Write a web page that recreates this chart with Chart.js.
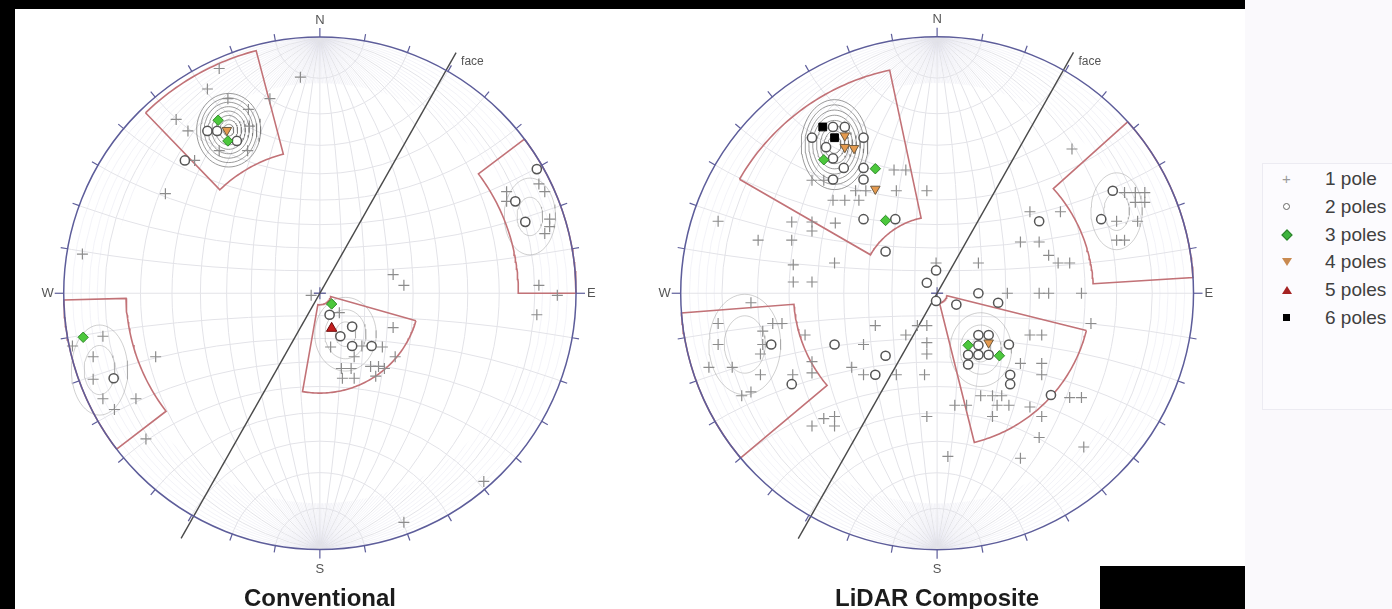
<!DOCTYPE html>
<html lang="en">
<head>
<meta charset="UTF-8" />
<title>Pole plots - Conventional vs LiDAR Composite</title>
<script src="https://cdn.jsdelivr.net/npm/chart.js"></script>
<style>
  body { margin: 0; width: 1392px; height: 609px; background: #000; position: relative; overflow: hidden;
         font-family: Arial, "Liberation Sans", sans-serif; }
  .sheet { position: absolute; left: 15px; top: 9px; width: 1377px; height: 600px; background: #fff; }
  .blackout { position: absolute; left: 1100px; top: 566px; width: 145px; height: 43px; background: #000; }
  .panel { position: absolute; left: 1245px; top: 0; width: 147px; height: 609px; background: #faf9fc; }
  .net { position: absolute; top: 0; height: 609px; }
  #convBox { left: 0; width: 628px; }
  #lidarBox { left: 628px; width: 628px; }
  .title { position: absolute; top: 586px; width: 320px; margin-left: -160px; text-align: center;
           font-weight: bold; font-size: 24px; line-height: 24px; color: #1c1c1c; }
  .legend { position: absolute; left: 1262px; top: 163px; width: 140px; height: 245px;
            background: #fcfbfe; border: 1px solid #ecebf2; }
  .item { position: absolute; left: 0; height: 28px; line-height: 28px; font-size: 19px; color: #404040; white-space: nowrap; }
  .item span.txt { position: absolute; left: 62px; }
  .mk { position: absolute; left: 24px; top: 14px; }
  .m1 { color: #9a9a9a; font-size: 15px; line-height: 15px; margin-top: -8px; margin-left: -5px; }
  .m2 { width: 5px; height: 5px; border: 1.5px solid #666; border-radius: 50%; background: #fff; margin: -4px 0 0 -4px; }
  .m3 { width: 6px; height: 6px; background: #3cb43c; border: 1px solid #2b7d2b; transform: rotate(45deg); margin: -4px 0 0 -4px; }
  .m4 { width: 0; height: 0; border-left: 5px solid transparent; border-right: 5px solid transparent; border-top: 8px solid #c98a50; margin: -4px 0 0 -5px; }
  .m5 { width: 0; height: 0; border-left: 5px solid transparent; border-right: 5px solid transparent; border-bottom: 8px solid #a52222; margin: -4px 0 0 -5px; }
  .m6 { width: 7px; height: 7px; background: #000; margin: -4px 0 0 -4px; }
</style>
</head>
<body>
  <div class="sheet"></div>
  <div class="blackout"></div>
  <div class="panel"></div>
  <div class="net" id="convBox"><canvas id="convChart"></canvas></div>
  <div class="net" id="lidarBox"><canvas id="lidarChart"></canvas></div>
  <div class="title" style="left:320px;">Conventional</div>
  <div class="title" style="left:937px;">LiDAR Composite</div>
  <div class="legend" id="legend"></div>

<script>
// Net units: the primitive circle has radius 100, x to the east, y to the north.

// ---- Conventional ----
const convOnePole = [
  [-39.3,87.8],[-7.6,84.4],[-43.9,79.8],[-35.9,76.0],[-19.5,76.0],[-56.1,67.9],[-51.5,63.4],[-27.9,71.8],
  [-27.5,65.3],[-39.3,55.7],[-28.2,55.7],[-60.3,38.9],[-48.9,51.9],
  [-3.4,-0.8],[28.6,7.3],[32.8,3.1],[7.6,-7.6],[4.2,-21.0],[16.4,-20.6],[24.4,-21.0],[28.6,-13.4],[13.4,-24.8],
  [29.4,-24.8],[8.4,-29.4],[12.2,-29.4],[19.8,-28.6],[22.9,-28.6],[25.2,-29.4],[8.8,-33.2],[13.4,-33.2],[21.8,-32.4],
  [-92.7,15.3],[-84.7,-16.8],[-96.6,-20.6],[-88.5,-24.8],[-88.5,-33.6],[-84.7,-41.2],[-80.2,-45.4],[-71.8,-41.2],
  [-64.1,-24.8],[-67.9,-56.9],
  [85.5,42.7],[87.8,39.7],[72.9,39.7],[72.9,35.9],[89.7,29.0],[89.7,26.0],[87.8,23.3],[85.5,3.1],[92.7,-0.8],[84.7,-8.4],
  [64.0,-73.5],[32.8,-89.5]
];
const convTwoPoles = [
  [-52.7,51.9],[-43.9,63.4],[-40.1,63.4],[-32.4,59.5],[3.8,-8.4],[12.6,-13.0],[8.0,-16.8],[12.6,-20.6],
  [20.2,-20.6],[-80.5,-33.2],[84.7,48.5],[76.3,35.9],[80.2,27.9]
];
const convThreePoles = [[-39.7,67.6],[-35.9,59.5],[4.6,-4.2],[-92.4,-17.2]];
const convFourPoles = [[-36.3,63.7]];
const convFivePoles = [[4.6,-13.7]];
const convSixPoles = [];
// windows: [dip direction from, dip direction to, inner radius, outer radius]
const convWindows = [[316,345.3,56.2,98],[53,90,77.5,100],[232.5,268.5,75.7,100],[106,190,4.5,39]];
// density contours: centre, radii, vertical stretch
const convContourCentres = [[-35.6,63.7],[10,-16],[-86,-30],[82,30]];
const convContourRadii = [[2,3.5,5,6.5,8,9.5,11,12.5],[4,8,12],[6,11],[5,10]];
const convContourStretch = [1.15,1.2,1.6,1.5];

// ---- LiDAR Composite ----
const lidarOnePole = [
  [-48.8,44.1],[-44.2,44.1],[-31.8,40.0],[-27.8,40.0],[-40.6,36.3],[-36.0,36.3],[-30.5,36.3],[-16.8,48.1],
  [-12.2,48.1],[-15.9,40.0],[-4.0,40.0],
  [-85.4,28.1],[-69.8,20.7],[-56.7,27.8],[-56.7,20.7],[-48.8,27.8],[-48.8,24.3],[-39.7,27.4],[-56.1,11.1],
  [-56.1,4.4],[-48.8,4.4],[-40.0,11.8],[-72.6,-3.7],
  [-85.4,-11.8],[-85.4,-20.0],[-89.0,-28.9],[-79.9,-28.9],[-76.2,-40.0],[-72.6,-38.5],[-68.0,-14.8],[-68.0,-20.0],
  [-68.9,-23.7],[-64.1,-11.8],[-60.5,-11.8],[-68.9,-31.8],[-56.3,-31.8],
  [-51.5,-16.3],[-48.8,-26.7],[-48.8,-31.1],[-44.2,-48.9],[-40.0,-48.1],[-48.8,-51.8],[-40.0,-51.8],[-33.3,-28.9],
  [-28.7,-31.8],[-28.7,-20.0],[-24.1,-12.6],[-15.9,-31.8],[-12.2,-16.3],[-7.7,-12.6],[-4.0,-12.6],[-4.0,-19.3],
  [-4.0,-23.7],[-4.9,-31.8],[-4.0,-48.1],[4.2,-63.7],[32.5,-64.4],[57.2,-60.0],[39.8,-56.3],
  [-0.4,11.8],[16.1,11.8],[27.4,0],[39.8,0],[43.5,0],[56.3,0],[32.5,20.0],[39.8,20.0],[43.5,14.8],[47.2,11.8],
  [51.7,11.8],[36.2,31.8],[48.1,31.8],[52.6,56.3],[60.0,-11.8],
  [17.0,-40.0],[21.6,-40.0],[25.2,-40.0],[6.9,-43.7],[11.5,-43.7],[23.4,-43.7],[28.0,-43.7],[36.2,-44.4],
  [32.5,-27.4],[40.8,-27.4],[40.8,-31.8],[36.2,-16.3],[40.8,-16.3],[51.7,-40.7],[56.3,-40.7],[40.8,-48.1],[21.6,-48.1],
  [73.1,39.3],[77.3,39.3],[81.0,39.3],[77.3,35.5],[81.0,35.5],[70.0,28.1],[78.2,28.1],[70.0,20.7],[73.1,20.7]
];
const lidarTwoPoles = [
  [-48.8,60.7],[-40.6,64.9],[-36.0,64.9],[-28.7,60.7],[-43.3,57.0],[-40.6,52.6],[-36.4,48.9],[-28.7,48.9],
  [-40.6,44.4],[-28.7,44.4],[-28.7,28.9],[-16.3,28.9],[-20.1,16.3],
  [-64.7,-20.0],[-56.7,-35.5],[-40.0,-20.0],[-24.1,-31.8],[-20.1,-24.4],
  [-0.4,8.9],[-4.0,4.1],[-0.4,-3.0],[7.5,-4.4],[16.1,0],[39.8,28.1],[23.8,-3.7],
  [16.1,-16.3],[20.1,-16.3],[16.1,-20.3],[28.0,-20.0],[12.1,-24.0],[16.1,-24.0],[20.1,-24.0],[12.1,-27.8],
  [28.5,-31.8],[28.5,-35.5],[44.4,-39.7],
  [68.5,40.0],[64.0,28.9]
];
const lidarThreePoles = [[-44.2,52.1],[-24.1,48.6],[-20.1,28.4],[12.1,-20.3],[24.3,-24.4]];
const lidarFourPoles = [[-36.0,61.5],[-36.0,57.0],[-32.4,56.6],[-24.1,40.7],[20.1,-19.3]];
const lidarFivePoles = [];
const lidarSixPoles = [[-44.6,64.9],[-40.0,60.7]];
const lidarWindows = [[300,348,30,89],[48,86.5,61,100],[230,265.6,56,100],[104,166,4,60]];
const lidarContourCentres = [[-40,58],[17,-22],[70,32],[-75,-20]];
const lidarContourRadii = [[2.5,4,5.5,7,8.5,10,11.5,13],[4,8,12],[5,10],[8,14]];
const lidarContourStretch = [1.35,1.2,1.5,1.4];

// face: strike of the cut face and how far the trace runs past the centre each way
const faceTrend = 29.5;
const faceReach = [108, 110];

const legendLabels = ["1 pole", "2 poles", "3 poles", "4 poles", "5 poles", "6 poles"];

// ---------------------------------------------------------------
const R_PX = 2.62;   // pixels per net unit
const rad = d => d * Math.PI / 180;
const polar = (az, r) => ({ x: r * Math.sin(rad(az)), y: r * Math.cos(rad(az)) });
const pts = arr => arr.map(p => ({ x: p[0], y: p[1] }));

function windowOutline(w) {
  const [a1, a2, r1, r2] = w;
  const out = [];
  for (let a = a1; a <= a2; a += 1) out.push(polar(a, r2));
  out.push(polar(a2, r2));
  for (let a = a2; a >= a1; a -= 1) out.push(polar(a, r1));
  out.push(polar(a1, r1));
  out.push(polar(a1, r2));
  return out;
}

function ring(c, r, k) {
  const out = [];
  for (let a = 0; a <= 360; a += 6) out.push({ x: c[0] + r * Math.sin(rad(a)), y: c[1] + k * r * Math.cos(rad(a)) });
  return out;
}

function buildDatasets(set) {
  const ds = [];
  set.contourCentres.forEach((c, i) => {
    set.contourRadii[i].forEach(r => {
      ds.push({ type: 'line', data: ring(c, r, set.contourStretch[i]), showLine: true, pointRadius: 0,
        borderColor: i === 0 ? 'rgba(120,120,120,0.75)' : 'rgba(150,150,150,0.45)', borderWidth: 1, fill: false, order: 9 });
    });
  });
  set.windows.forEach(w => {
    ds.push({ type: 'line', data: windowOutline(w), showLine: true, pointRadius: 0,
      borderColor: '#c27277', borderWidth: 1.6, fill: false, order: 8 });
  });
  ds.push({ type: 'line', data: [polar(faceTrend, faceReach[0]), polar(faceTrend + 180, faceReach[1])],
    showLine: true, pointRadius: 0, borderColor: '#4a4a4a', borderWidth: 1.4, order: 7 });

  const marks = [
    { d: set.one, style: 'cross', r: 5.5, bg: '#888', bd: '#8c8c8c', bw: 1.2, rot: 0, order: 6 },
    { d: set.two, style: 'circle', r: 4.6, bg: '#fff', bd: '#555', bw: 1.5, rot: 0, order: 5 },
    { d: set.three, style: 'rectRot', r: 5.2, bg: '#4cc83c', bd: '#2f8a2a', bw: 1, rot: 0, order: 4 },
    { d: set.four, style: 'triangle', r: 5.5, bg: '#e59a4e', bd: '#6e5a40', bw: 1, rot: 180, order: 3 },
    { d: set.five, style: 'triangle', r: 6, bg: '#c41e1e', bd: '#701010', bw: 1, rot: 0, order: 2 },
    { d: set.six, style: 'rect', r: 5.5, bg: '#000', bd: '#000', bw: 1, rot: 0, order: 1 }
  ];
  marks.forEach(m => ds.push({ data: pts(m.d), pointStyle: m.style, pointRadius: m.r, pointBackgroundColor: m.bg,
    pointBorderColor: m.bd, pointBorderWidth: m.bw, pointRotation: m.rot, order: m.order }));
  return ds;
}

// stereonet frame: Wulff grid, primitive, ticks and labels
const netPlugin = {
  id: 'net',
  beforeDatasetsDraw(chart) {
    const { ctx, scales: { x, y } } = chart;
    const cx = x.getPixelForValue(0), cy = y.getPixelForValue(0);
    const R = x.getPixelForValue(100) - cx;
    ctx.save();
    ctx.beginPath(); ctx.arc(cx, cy, R, 0, Math.PI * 2); ctx.clip();
    // fine meridians near the poles
    ctx.strokeStyle = 'rgba(205,205,225,0.35)'; ctx.lineWidth = 0.7;
    for (let a = 2; a < 90; a += 2) {
      if (a % 10 === 0) continue;
      const x0 = R * Math.tan(rad(a / 2)), c = (x0 * x0 - R * R) / (2 * x0), rr = x0 - c;
      [1, -1].forEach(s => { ctx.beginPath(); ctx.arc(cx + s * c, cy, rr, 0, Math.PI * 2); ctx.stroke(); });
    }
    ctx.beginPath(); ctx.arc(cx, cy, R * 0.82, 0, Math.PI * 2); ctx.fillStyle = '#fff'; ctx.fill();
    ctx.strokeStyle = '#e3e3e8'; ctx.lineWidth = 1;
    for (let a = 10; a < 90; a += 10) {
      const x0 = R * Math.tan(rad(a / 2)), c = (x0 * x0 - R * R) / (2 * x0), rr = x0 - c;
      [1, -1].forEach(s => { ctx.beginPath(); ctx.arc(cx + s * c, cy, rr, 0, Math.PI * 2); ctx.stroke(); });
      const d = R / Math.cos(rad(a)), rs = R * Math.tan(rad(a));
      [1, -1].forEach(s => { ctx.beginPath(); ctx.arc(cx, cy - s * d, rs, 0, Math.PI * 2); ctx.stroke(); });
    }
    ctx.beginPath(); ctx.moveTo(cx - R, cy); ctx.lineTo(cx + R, cy);
    ctx.moveTo(cx, cy - R); ctx.lineTo(cx, cy + R); ctx.stroke();
    ctx.restore();
    // centre mark
    ctx.save();
    ctx.strokeStyle = '#6b6ba0'; ctx.lineWidth = 1.3;
    ctx.beginPath(); ctx.moveTo(cx - 6, cy); ctx.lineTo(cx + 6, cy); ctx.moveTo(cx, cy - 6); ctx.lineTo(cx, cy + 6); ctx.stroke();
    ctx.restore();
  },
  afterDatasetsDraw(chart) {
    const { ctx, scales: { x, y } } = chart;
    const cx = x.getPixelForValue(0), cy = y.getPixelForValue(0);
    const R = x.getPixelForValue(100) - cx;
    ctx.save();
    ctx.strokeStyle = '#5d5d9a'; ctx.lineWidth = 1.5;
    ctx.beginPath(); ctx.arc(cx, cy, R, 0, Math.PI * 2); ctx.stroke();
    ctx.lineWidth = 1.2;
    for (let a = 0; a < 360; a += 10) {
      const len = (a % 90 === 0) ? 9 : 7;
      const s = Math.sin(rad(a)), c = Math.cos(rad(a));
      ctx.beginPath(); ctx.moveTo(cx + R * s, cy - R * c); ctx.lineTo(cx + (R + len) * s, cy - (R + len) * c); ctx.stroke();
    }
    ctx.fillStyle = '#555'; ctx.font = '13px Arial, "Liberation Sans", sans-serif';
    ctx.textAlign = 'center'; ctx.textBaseline = 'middle';
    ctx.fillText('N', cx, cy - R - 17);
    ctx.fillText('S', cx, cy + R + 20);
    ctx.textAlign = 'right'; ctx.fillText('W', cx - R - 10, cy);
    ctx.textAlign = 'left'; ctx.fillText('E', cx + R + 11, cy);
    const f = polar(faceTrend, faceReach[0]);
    ctx.font = '12px Arial, "Liberation Sans", sans-serif';
    ctx.fillText('face', x.getPixelForValue(f.x) + 5, y.getPixelForValue(f.y) + 9);
    ctx.restore();
  }
};

function makeNet(canvasId, set, leftPx, widthPx, centrePx) {
  const xMin = -(centrePx - leftPx) / R_PX, xMax = (leftPx + widthPx - centrePx) / R_PX;
  const yMax = 293 / R_PX, yMin = -(609 - 293) / R_PX;
  return new Chart(document.getElementById(canvasId), {
    type: 'scatter',
    data: { datasets: buildDatasets(set) },
    options: {
      responsive: true,
      maintainAspectRatio: false,
      animation: false,
      layout: { padding: 0 },
      plugins: { legend: { display: false }, tooltip: { enabled: false } },
      scales: {
        x: { type: 'linear', min: xMin, max: xMax, display: false },
        y: { type: 'linear', min: yMin, max: yMax, display: false }
      }
    },
    plugins: [netPlugin]
  });
}

makeNet('convChart', {
  one: convOnePole, two: convTwoPoles, three: convThreePoles, four: convFourPoles, five: convFivePoles, six: convSixPoles,
  windows: convWindows, contourCentres: convContourCentres, contourRadii: convContourRadii, contourStretch: convContourStretch
}, 0, 628, 320);

makeNet('lidarChart', {
  one: lidarOnePole, two: lidarTwoPoles, three: lidarThreePoles, four: lidarFourPoles, five: lidarFivePoles, six: lidarSixPoles,
  windows: lidarWindows, contourCentres: lidarContourCentres, contourRadii: lidarContourRadii, contourStretch: lidarContourStretch
}, 628, 628, 937);

// legend
const legend = document.getElementById('legend');
legendLabels.forEach((label, i) => {
  const row = document.createElement('div');
  row.className = 'item';
  row.style.top = (1 + i * 27.8) + 'px';
  row.innerHTML = '<div class="mk m' + (i + 1) + '">' + (i === 0 ? '+' : '') + '</div><span class="txt">' + label + '</span>';
  legend.appendChild(row);
});
</script>
</body>
</html>
